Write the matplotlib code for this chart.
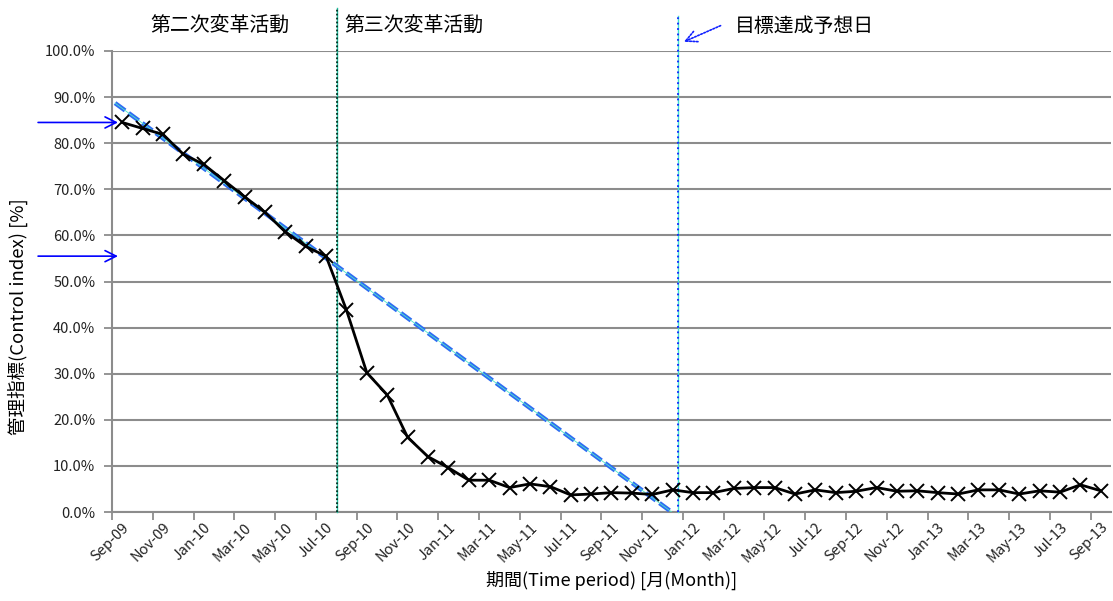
import matplotlib
matplotlib.use("Agg")
import matplotlib.pyplot as plt
import numpy as np

plt.rcParams['font.family'] = ['Noto Sans CJK JP', 'DejaVu Sans']

# Monthly control-index values, Sep-09 .. Sep-13 (percent)
months = ["Sep-09", "Oct-09", "Nov-09", "Dec-09", "Jan-10", "Feb-10", "Mar-10", "Apr-10",
          "May-10", "Jun-10", "Jul-10", "Aug-10", "Sep-10", "Oct-10", "Nov-10", "Dec-10",
          "Jan-11", "Feb-11", "Mar-11", "Apr-11", "May-11", "Jun-11", "Jul-11", "Aug-11",
          "Sep-11", "Oct-11", "Nov-11", "Dec-11", "Jan-12", "Feb-12", "Mar-12", "Apr-12",
          "May-12", "Jun-12", "Jul-12", "Aug-12", "Sep-12", "Oct-12", "Nov-12", "Dec-12",
          "Jan-13", "Feb-13", "Mar-13", "Apr-13", "May-13", "Jun-13", "Jul-13", "Aug-13",
          "Sep-13"]
control_index = [84.5, 83.2, 81.9, 77.6, 75.4, 71.9, 68.4, 65.0, 60.8, 57.6, 55.5,
                 43.8, 30.2, 25.4, 16.2, 12.0, 9.6, 6.9, 6.9, 5.3, 6.1, 5.5, 3.7, 3.9,
                 4.2, 4.1, 3.8, 4.8, 4.2, 4.2, 5.1, 5.3, 5.3, 3.9, 4.8, 4.2, 4.5, 5.3,
                 4.5, 4.6, 4.2, 3.9, 4.8, 4.8, 3.9, 4.6, 4.3, 5.9, 4.6]

# Linear trend of the second-phase decline, extended to the 0 % target
trend_x = [-0.35, 26.95]
trend_y = [88.7, 0.0]

phase3_start = 10.53      # start of the third transformation activity
target_date = 27.24       # forecast date for reaching the target

y_ticks = [0, 10, 20, 30, 40, 50, 60, 70, 80, 90, 100]
phase_labels = ["第二次変革活動", "第三次変革活動"]
target_label = "目標達成予想日"

x = np.arange(len(months))

fig = plt.figure(figsize=(11.13, 6.01), dpi=100)
ax = fig.add_axes([112 / 1113, 89 / 601, 999 / 1113, 461 / 601])

grid_c = "#8c8c8c"
ax.set_xlim(-0.5, len(months) - 0.5)
ax.set_ylim(0, 100)
ax.set_yticks(y_ticks)
ax.set_yticklabels([f"{v:.1f}%" for v in y_ticks], fontsize=10.5, color="#222222")
ax.yaxis.grid(True, color=grid_c, linewidth=1.5)
ax.set_axisbelow(True)

# category boundaries carry the tick marks, labels sit on the category centres
ax.set_xticks(np.arange(-0.5, len(months), 2))
ax.set_xticklabels([])
ax.set_xticks(x[::2], minor=True)
ax.set_xticklabels(months[::2], minor=True, rotation=45, ha="right",
                   rotation_mode="anchor", fontsize=10.5, color="#222222")
ax.tick_params(axis="x", which="major", length=6, width=1.3, color=grid_c, direction="out")
ax.tick_params(axis="x", which="minor", length=0, pad=6)
ax.tick_params(axis="y", length=6, width=1.3, color=grid_c, pad=6)

for s in ("top", "right"):
    ax.spines[s].set_visible(False)
for s in ("left", "bottom"):
    ax.spines[s].set_color(grid_c)
    ax.spines[s].set_linewidth(1.5)

# vertical event markers
ax.plot([phase3_start, phase3_start], [0, 109.3], color="#20c0a0", lw=1.0, clip_on=False, zorder=3)
ax.plot([phase3_start, phase3_start], [0, 109.3], color="#003020", lw=1.3, ls=(0, (1, 1.2)),
        clip_on=False, zorder=3)
ax.plot([target_date, target_date], [0, 107.6], color="#40e0d0", lw=1.0, clip_on=False, zorder=3)
ax.plot([target_date, target_date], [0, 107.6], color="#1020ff", lw=1.3, ls=(0, (1, 2)),
        clip_on=False, zorder=3)

# trend line
ax.plot(trend_x, trend_y, color="#2f6cf2", lw=3.2, ls=(0, (2.8, 1.0)), zorder=4,
        solid_capstyle="butt", dash_capstyle="butt")
ax.plot(trend_x, trend_y, color="#50e8c8", lw=0.6, zorder=4)

# measured series
ax.plot(x, control_index, color="black", lw=2.0, marker="x", markersize=10,
        markeredgewidth=1.4, zorder=5)

# labels
ax.set_ylabel("管理指標(Control index) [%]", fontsize=13.3)
ax.yaxis.set_label_coords(-0.084, 0.423)
ax.set_xlabel("期間(Time period) [月(Month)]", fontsize=13)
ax.xaxis.set_label_coords(0.5, -0.127)

ax.text(4.8, 105.4, phase_labels[0], fontsize=14.3, ha="center", va="center", clip_on=False)
ax.text(10.9, 105.4, phase_labels[1], fontsize=14.3, ha="left", va="center", clip_on=False)
ax.text(30.05, 105.4, target_label, fontsize=14.3, ha="left", va="center", clip_on=False)

ax.annotate("", xy=(27.55, 102.0), xytext=(29.35, 105.5), xycoords="data",
            arrowprops=dict(arrowstyle="->", color="#1020ff", lw=1.2, ls=(0, (1, 1)),
                            mutation_scale=20, shrinkA=0, shrinkB=0),
            annotation_clip=False)

# arrows pointing at the phase-start levels
for level in (control_index[0], control_index[10]):
    ax.annotate("", xy=(0.006, level), xytext=(-0.074, level),
                xycoords=("axes fraction", "data"), textcoords=("axes fraction", "data"),
                arrowprops=dict(arrowstyle="->", color="#0000ff", lw=1.2,
                                mutation_scale=20, shrinkA=0, shrinkB=0),
                annotation_clip=False)

fig.savefig("out.png", dpi=100)
